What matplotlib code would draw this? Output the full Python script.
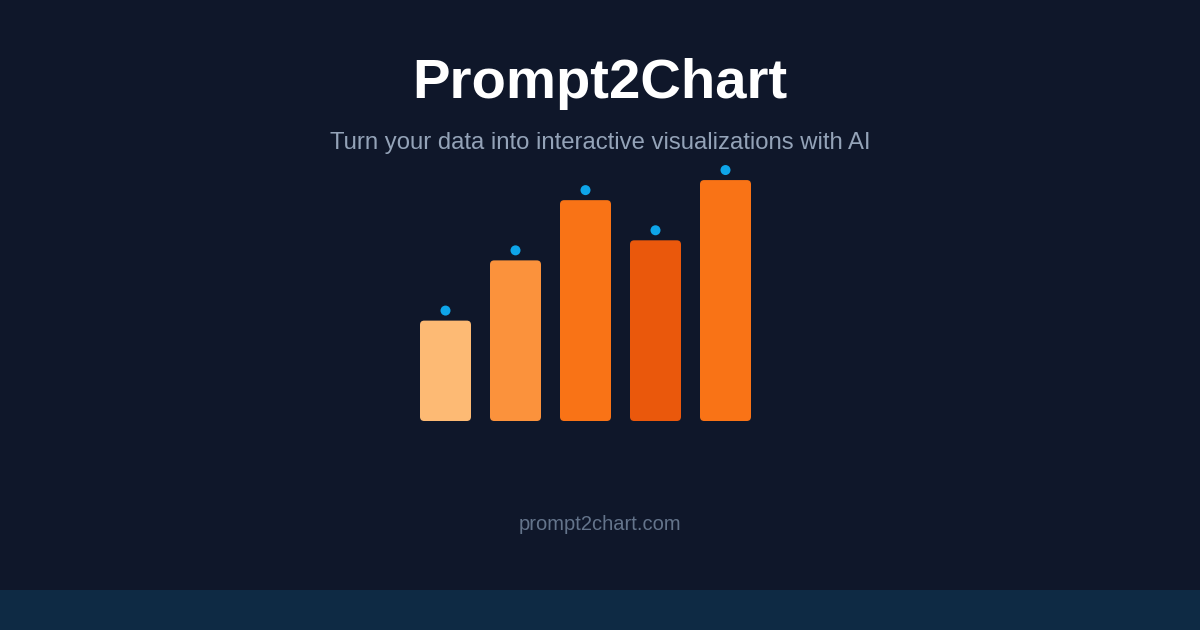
import numpy as np
import matplotlib.pyplot as plt
from matplotlib.patches import FancyBboxPatch, Rectangle

plt.rcParams['font.family'] = ['Liberation Sans', 'DejaVu Sans']

# chart data
values = [50, 80, 110, 90, 120]
bar_colors = ['#fdba74', '#fb923c', '#f97316', '#ea580c', '#f97316']
title = "Prompt2Chart"
subtitle = "Turn your data into interactive visualizations with AI"
footer = "prompt2chart.com"

W, H = 1200, 630
fig = plt.figure(figsize=(W / 100, H / 100), dpi=100, facecolor='#0f172a')

# bottom strip
fig.patches.append(Rectangle((0, 0), 1, 40 / H, transform=fig.transFigure,
                             facecolor='#0e2a44', edgecolor='none', zorder=0))

fig.text(0.5, 1 - 84 / H, title, ha='center', va='center', fontsize=40.5,
         fontweight='bold', color='white')
fig.text(0.5, 1 - 143 / H, subtitle, ha='center', va='center', fontsize=17.2,
         color='#94a3b8')
fig.text(0.5, 1 - 525 / H, footer, ha='center', va='center', fontsize=14.5,
         color='#64748b')

# bars axes: 70 px per bar slot, ~2 px per unit
ax = fig.add_axes([410.5 / W, (H - 421) / H, 350 / W, 261 / H])
ax.set_xlim(-0.5, 4.5)
ax.set_ylim(0, 130)
ax.axis('off')
ax.patch.set_alpha(0)

bw = 51 / 70
for i, (v, c) in enumerate(zip(values, bar_colors)):
    p = FancyBboxPatch((i - bw / 2, 0), bw, v,
                       boxstyle="round,pad=0,rounding_size=0.06",
                       mutation_aspect=35, facecolor=c, edgecolor='none')
    ax.add_patch(p)

x = np.arange(len(values))
ax.scatter(x, np.array(values) + 5, s=52, color='#0ea5e9', zorder=3,
           edgecolors='none', clip_on=False)

fig.savefig('out.png', dpi=100, facecolor=fig.get_facecolor())
